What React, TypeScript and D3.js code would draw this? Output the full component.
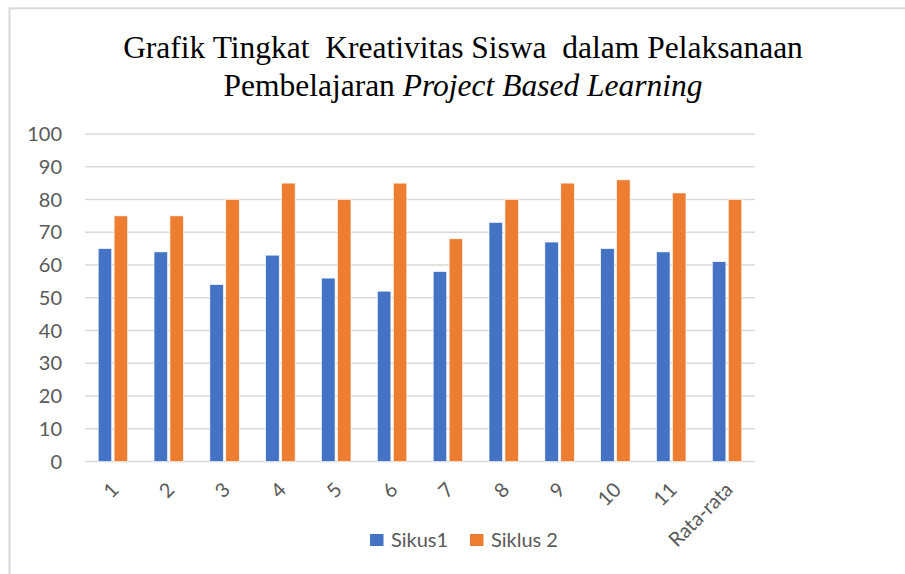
import React from "react";
import * as d3 from "d3";

const categories = ["1", "2", "3", "4", "5", "6", "7", "8", "9", "10", "11", "Rata-rata"];
const sikus1 = [65, 64, 54, 63, 56, 52, 58, 73, 67, 65, 64, 61];
const siklus2 = [75, 75, 80, 85, 80, 85, 68, 80, 85, 86, 82, 80];
const seriesNames = ["Sikus1", "Siklus 2"];
const seriesColors = ["#4472C4", "#ED7D31"];
const yTicks = [0, 10, 20, 30, 40, 50, 60, 70, 80, 90, 100];

const App = () => {
    const width = 905;
    const height = 574;
    const plot = { left: 85, right: 755, top: 134, bottom: 461.5 };

    const xScale = d3.scaleBand<string>()
        .domain(categories)
        .range([plot.left, plot.right])
        .paddingInner(0.473)
        .paddingOuter(0.2365);

    const xInner = d3.scaleBand<string>()
        .domain(seriesNames)
        .range([0, xScale.bandwidth()])
        .paddingInner(0.151);

    const yScale = d3.scaleLinear()
        .domain([0, 100])
        .range([plot.bottom, plot.top]);

    const values = [sikus1, siklus2];
    const tickFont = "Lato, 'Open Sans', sans-serif";
    const serif = "'Liberation Serif', 'Times New Roman', serif";

    return (
        <svg
            width={width}
            height={height}
            style={{ position: "absolute", left: 0, top: 0, background: "#fff" }}
        >
            {/* chart frame, runs off the page on the right and bottom */}
            <rect x={9.5} y={8.3} width={1000} height={1000} fill="none" stroke="#d9d9d9" strokeWidth={2} />

            <text
                x={463}
                y={58}
                textAnchor="middle"
                fontFamily={serif}
                fontSize={31.5}
                fill="#000"
                style={{ whiteSpace: "pre" }}
            >
                {"Grafik Tingkat  Kreativitas Siswa  dalam Pelaksanaan"}
            </text>
            <text
                x={463}
                y={96}
                textAnchor="middle"
                fontFamily={serif}
                fontSize={31.5}
                fill="#000"
            >
                Pembelajaran <tspan fontStyle="italic">Project Based Learning</tspan>
            </text>

            {/* gridlines + y labels */}
            {yTicks.map((t) => (
                <g key={t}>
                    <line
                        x1={plot.left}
                        x2={plot.right}
                        y1={yScale(t)}
                        y2={yScale(t)}
                        stroke="#d9d9d9"
                        strokeWidth={1.5}
                    />
                    <text
                        x={62}
                        y={yScale(t)}
                        dy="0.35em"
                        textAnchor="end"
                        fontFamily={tickFont}
                        fontSize={20}
                        fill="#595959"
                    >
                        {t}
                    </text>
                </g>
            ))}

            {/* bars */}
            {categories.map((c, i) => (
                <g key={c} transform={`translate(${xScale(c)},0)`}>
                    {seriesNames.map((s, j) => (
                        <rect
                            key={s}
                            x={xInner(s)}
                            y={yScale(values[j][i])}
                            width={xInner.bandwidth()}
                            height={yScale(0) - yScale(values[j][i])}
                            fill={seriesColors[j]}
                            stroke="#fff"
                            strokeWidth={0.6}
                        />
                    ))}
                </g>
            ))}

            {/* x labels, rotated */}
            {categories.map((c) => {
                const cx = (xScale(c) ?? 0) + xScale.bandwidth() / 2;
                return (
                    <text
                        key={c}
                        transform={`translate(${cx + 2},${486}) rotate(-45)`}
                        dy="0.35em"
                        textAnchor="end"
                        fontFamily={tickFont}
                        fontSize={20}
                        fill="#595959"
                    >
                        {c}
                    </text>
                );
            })}

            {/* legend */}
            {seriesNames.map((s, j) => {
                const lx = j === 0 ? 370 : 470;
                return (
                    <g key={s} transform={`translate(${lx},534)`}>
                        <rect width={13.5} height={12} fill={seriesColors[j]} />
                        <text
                            x={21}
                            y={6}
                            dy="0.35em"
                            fontFamily={tickFont}
                            fontSize={20}
                            fill="#595959"
                        >
                            {s}
                        </text>
                    </g>
                );
            })}
        </svg>
    );
};

export default App;
